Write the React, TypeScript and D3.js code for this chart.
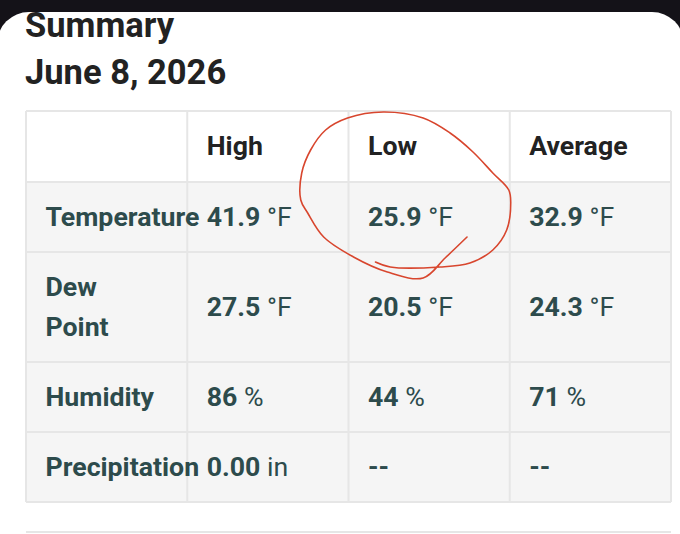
import { useMemo } from 'react'
import * as d3 from 'd3'

const W = 680
const H = 534

const titleLines = ['Summary', 'June 8, 2026']
const columns = ['High', 'Low', 'Average']
const rowLabels = [['Temperature'], ['Dew', 'Point'], ['Humidity'], ['Precipitation']]
const highValues = ['41.9', '27.5', '86', '0.00']
const lowValues = ['25.9', '20.5', '44', '--']
const avgValues = ['32.9', '24.3', '71', '--']
const units = ['°F', '°F', '%', 'in']

// hand-drawn red loop around the Low / Temperature cell, in cell-relative units
const loopStroke: [number, number][] = [
  [0.167, 1.143], [0.259, 1.214], [0.568, 1.214], [0.753, 1.157], [0.895, 0.971],
  [0.981, 0.686], [1.006, 0.3], [0.994, 0.114], [0.895, -0.129], [0.772, -0.429],
  [0.63, -0.7], [0.463, -0.914], [0.216, -1.0], [-0.006, -0.914], [-0.142, -0.743],
  [-0.235, -0.457], [-0.29, -0.129], [-0.296, 0.257], [-0.253, 0.443], [-0.154, 0.786],
  [0.031, 1.071], [0.241, 1.286], [0.463, 1.371], [0.599, 1.086], [0.735, 0.786],
]

const FONT = 'Roboto, "Noto Sans", sans-serif'
const DARK = '#222222'
const TEAL = '#2d4b4c'
const GRID = '#e6e6e6'
const BODY_BG = '#f5f5f5'

const table = { left: 26, right: 671, top: 111 }
const lineHeight = 40
const rowPad = 30
const bodySize = 26.7

export default function App() {
  const x = useMemo(
    () => d3.scaleBand<string>().domain(['label', ...columns]).range([table.left, table.right]),
    []
  )

  const rows = useMemo(() => {
    const heights = [1, ...rowLabels.map(l => l.length)].map((n, i) => rowPad + lineHeight * n + (i === 0 ? 1 : 0))
    const ends = d3.cumsum(heights)
    return heights.map((h, i) => ({ y: table.top + ends[i] - h, h }))
  }, [])

  const tableBottom = rows[rows.length - 1].y + rows[rows.length - 1].h
  const valuesByCol = [highValues, lowValues, avgValues]
  const cellPadX = 19.5
  const baseOff = 8.8

  const loopPath = useMemo(() => {
    const cell = rows[1]
    const x0 = x('Low') ?? 0
    const bw = x.bandwidth()
    const sx = d3.scaleLinear().domain([0, 1]).range([x0, x0 + bw])
    const sy = d3.scaleLinear().domain([0, 1]).range([cell.y, cell.y + cell.h])
    return d3.line<[number, number]>()
      .x(d => sx(d[0]))
      .y(d => sy(d[1]))
      .curve(d3.curveCatmullRom.alpha(0.5))(loopStroke) ?? ''
  }, [rows, x])

  return (
    <svg width={W} height={H} viewBox={`0 0 ${W} ${H}`} style={{ position: 'fixed', top: 0, left: 0, display: 'block' }} fontFamily={FONT}>
      <defs>
        <clipPath id="card-clip">
          <rect x={-3} y={12} width={687} height={H + 40} rx={32} />
        </clipPath>
      </defs>
      <rect x={0} y={0} width={W} height={H} fill="#141218" />
      <rect x={-3} y={12} width={687} height={H + 40} rx={32} fill="#ffffff" />

      <g clipPath="url(#card-clip)">
        {titleLines.map((t, i) => (
          <text key={t} x={25} y={37 + i * 46.5} fontSize={34.5} fontWeight={700} fill={DARK}>{t}</text>
        ))}

        {/* row backgrounds */}
        {rows.map((r, i) => (
          <rect key={`bg-${i}`} x={table.left} y={r.y} width={table.right - table.left} height={r.h} fill={i === 0 ? '#ffffff' : BODY_BG} />
        ))}

        {/* grid lines */}
        {rows.map((r, i) => (
          <line key={`h-${i}`} x1={table.left} x2={table.right} y1={r.y} y2={r.y} stroke={GRID} strokeWidth={2} />
        ))}
        <line x1={table.left} x2={table.right} y1={tableBottom} y2={tableBottom} stroke={GRID} strokeWidth={2} />
        {x.domain().map(c => (
          <line key={`v-${c}`} x1={x(c)} x2={x(c)} y1={table.top} y2={tableBottom} stroke={GRID} strokeWidth={2} />
        ))}
        <line x1={table.right} x2={table.right} y1={table.top} y2={tableBottom} stroke={GRID} strokeWidth={2} />

        {/* header */}
        {columns.map(c => (
          <text key={c} x={(x(c) ?? 0) + cellPadX} y={rows[0].y + rows[0].h / 2 + baseOff} fontSize={bodySize} fontWeight={700} fill={DARK}>{c}</text>
        ))}

        {/* body */}
        {rowLabels.map((lines, ri) => {
          const r = rows[ri + 1]
          const cy = r.y + r.h / 2 + baseOff
          return (
            <g key={`row-${ri}`}>
              {lines.map((l, li) => (
                <text key={l} x={table.left + cellPadX} y={cy + (li - (lines.length - 1) / 2) * lineHeight} fontSize={bodySize} fontWeight={700} fill={TEAL}>{l}</text>
              ))}
              {columns.map((c, ci) => {
                const v = valuesByCol[ci][ri]
                return (
                  <text key={c} x={(x(c) ?? 0) + cellPadX} y={cy} fontSize={bodySize} fill={TEAL}>
                    <tspan fontWeight={700}>{v}</tspan>
                    {v !== '--' && <tspan fontWeight={400}>{` ${units[ri]}`}</tspan>}
                  </text>
                )
              })}
            </g>
          )
        })}

        {/* next table starts below */}
        <line x1={table.left} x2={table.right} y1={532} y2={532} stroke={GRID} strokeWidth={2} />

        <path d={loopPath} fill="none" stroke="#d8462e" strokeWidth={1.6} strokeLinecap="round" strokeLinejoin="round" />
      </g>
    </svg>
  )
}
